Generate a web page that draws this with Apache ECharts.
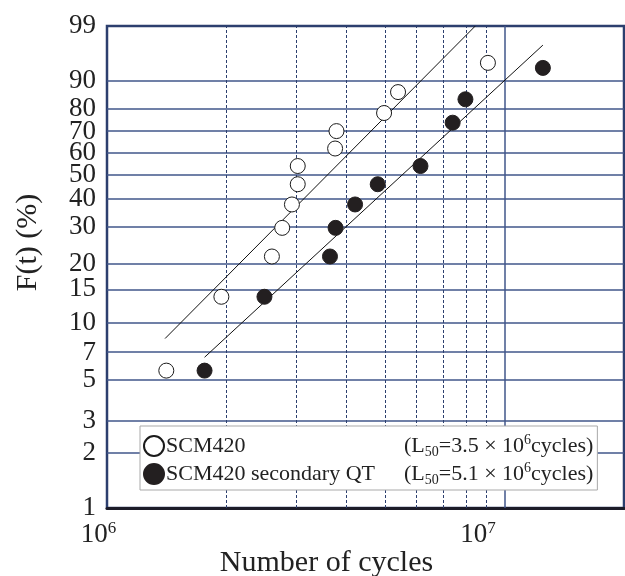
<!DOCTYPE html>
<html>
<head>
<meta charset="utf-8">
<script src="https://cdn.jsdelivr.net/npm/echarts@6/dist/echarts.min.js"></script>
<style>
html,body{margin:0;padding:0;background:#fff;}
#chart{width:625px;height:576px;}
</style>
</head>
<body>
<div id="chart"></div>
<script>
// ---- data (cycles, cumulative failure probability %) ----
const seriesNames = ['SCM420', 'SCM420 secondary QT'];
const l50Values = ['3.5', '5.1'];

const xOpen = [1.41e6, 1.94e6, 2.60e6, 2.76e6, 2.92e6, 3.02e6, 3.02e6, 3.75e6, 3.78e6, 4.98e6, 5.40e6, 9.09e6];
const fOpen = [5.6, 13.7, 21.8, 29.8, 37.9, 46.0, 54.0, 62.1, 70.2, 78.2, 86.3, 94.4];

const xQT = [1.76e6, 2.49e6, 3.64e6, 3.76e6, 4.21e6, 4.80e6, 6.15e6, 7.41e6, 7.98e6, 12.5e6];
const fQT = [5.6, 13.7, 21.8, 29.8, 37.9, 46.0, 54.0, 74.0, 83.7, 93.3];

const fitOpenX = [1.40e6, 8.45e6];
const fitOpenF = [8.3, 99];
const fitQTX = [1.76e6, 12.5e6];
const fitQTF = [6.6, 97.3];

const yTickLabels = [1, 2, 3, 5, 7, 10, 15, 20, 30, 40, 50, 60, 70, 80, 90, 99];
const xMinorTicks = [2e6, 3e6, 4e6, 5e6, 6e6, 7e6, 8e6, 9e6];
const xMajorTicks = [1e6, 1e7];

// Weibull probability scale
const weib = p => Math.log(-Math.log(1 - p / 100));
const unweib = v => Math.round(100 * (1 - Math.exp(-Math.exp(v))));

const pairs = (xs, fs) => xs.map((x, i) => [x, weib(fs[i])]);

const NAVY = '#2c3f6e';
const GRID = '#40568a';
const FONT = '"Liberation Serif", "Times New Roman", serif';

const gridLines = []
  .concat(yTickLabels.filter(v => v !== 1 && v !== 99).map(v => ({
    yAxis: weib(v), lineStyle: { color: GRID, width: 1.5, type: 'solid' }
  })))
  .concat(xMinorTicks.map(v => ({
    xAxis: v, lineStyle: { color: NAVY, width: 1, type: [3, 2] }
  })))
  .concat([{ xAxis: xMajorTicks[1], lineStyle: { color: GRID, width: 1.5, type: 'solid' } }]);

const chart = echarts.init(document.getElementById('chart'), null, { renderer: 'canvas' });

const option = {
  animation: false,
  backgroundColor: '#fff',
  grid: {
    left: 107, right: 1, top: 26, bottom: 68,
    outerBoundsMode: 'none',
    containLabel: false,
    show: true, borderColor: NAVY, borderWidth: 2.5, backgroundColor: 'transparent'
  },
  xAxis: {
    type: 'log',
    logBase: 10,
    min: 1e6,
    max: 2e7,
    axisLine: { show: true, onZero: false, lineStyle: { color: '#1c1c28', width: 3 } },
    axisTick: { show: false },
    splitLine: { show: false },
    minorSplitLine: { show: false },
    axisLabel: {
      margin: 12,
      color: '#222',
      fontFamily: FONT,
      formatter: function (v) {
        const e = Math.log10(v);
        if (Math.abs(e - Math.round(e)) > 1e-6) return '';
        const r = Math.round(e);
        return '{m|10}{s|' + r + '}' + (r === 6 ? '{p| }' : '{q| }');
      },
      rich: {
        m: { fontSize: 27, fontFamily: FONT, color: '#222', lineHeight: 30 },
        s: { fontSize: 17, fontFamily: FONT, color: '#222', lineHeight: 17, verticalAlign: 'top' },
        p: { width: 17, fontSize: 10 },
        q: { width: 53, fontSize: 10 }
      }
    },
    name: 'Number of cycles',
    nameLocation: 'middle',
    nameGap: 40,
    nameMoveOverlap: false,
    nameTextStyle: { fontSize: 30, fontFamily: FONT, color: '#222', padding: [0, 78, 0, 0] }
  },
  yAxis: {
    type: 'value',
    min: weib(1),
    max: weib(99),
    axisLine: { show: false },
    axisTick: { show: false },
    splitLine: { show: false },
    axisLabel: {
      customValues: yTickLabels.map(weib),
      showMinLabel: true,
      showMaxLabel: true,
      margin: 11,
      fontSize: 27,
      fontFamily: FONT,
      color: '#222',
      formatter: v => String(unweib(v))
    },
    name: 'F(t) (%)',
    nameLocation: 'middle',
    nameRotate: 90,
    nameGap: 64,
    nameMoveOverlap: false,
    nameTextStyle: { fontSize: 30, fontFamily: FONT, color: '#222', padding: [0, 0, 0, 49] }
  },
  legend: {
    data: seriesNames,
    orient: 'vertical',
    left: 140,
    top: 426,
    padding: [7, 4, 3, 3],
    itemGap: 2,
    itemWidth: 20,
    itemHeight: 20,
    icon: 'circle',
    backgroundColor: '#fff',
    borderColor: '#a9a9a9',
    borderWidth: 1,
    borderRadius: 0,
    selectedMode: false,
    formatter: function (name) {
      const i = seriesNames.indexOf(name);
      return '{n|' + name + '}{t|(L}{sub|50}{t|=' + l50Values[i] + ' × 10}{sup|6}{t|cycles)}';
    },
    textStyle: {
      fontSize: 22, fontFamily: FONT, color: '#222',
      rich: {
        n: { width: 238, fontSize: 22, fontFamily: FONT, color: '#222', lineHeight: 26, padding: [0, 0, 0, -3] },
        t: { fontSize: 22, fontFamily: FONT, color: '#222', lineHeight: 26 },
        sub: { fontSize: 14, fontFamily: FONT, color: '#222', lineHeight: 14, verticalAlign: 'bottom' },
        sup: { fontSize: 14, fontFamily: FONT, color: '#222', lineHeight: 14, verticalAlign: 'top' }
      }
    }
  },
  series: [
    {
      name: 'fitOpen',
      type: 'line',
      data: pairs(fitOpenX, fitOpenF),
      showSymbol: false,
      symbol: 'none',
      silent: true,
      z: 3,
      lineStyle: { color: '#111', width: 1 },
      markLine: {
        silent: true,
        symbol: 'none',
        label: { show: false },
        z: 1,
        data: gridLines
      }
    },
    {
      name: 'fitQT',
      type: 'line',
      data: pairs(fitQTX, fitQTF),
      showSymbol: false,
      symbol: 'none',
      silent: true,
      z: 3,
      lineStyle: { color: '#111', width: 1 }
    },
    {
      name: seriesNames[0],
      type: 'scatter',
      data: pairs(xOpen, fOpen),
      symbol: 'circle',
      symbolSize: 15,
      z: 5,
      itemStyle: { color: '#fff', borderColor: '#1a1a1a', borderWidth: 1, opacity: 1 }
    },
    {
      name: seriesNames[1],
      type: 'scatter',
      data: pairs(xQT, fQT),
      symbol: 'circle',
      symbolSize: 15,
      z: 5,
      itemStyle: { color: '#231f20', borderColor: '#231f20', borderWidth: 1, opacity: 1 }
    }
  ]
};

chart.setOption(option);
</script>
</body>
</html>
